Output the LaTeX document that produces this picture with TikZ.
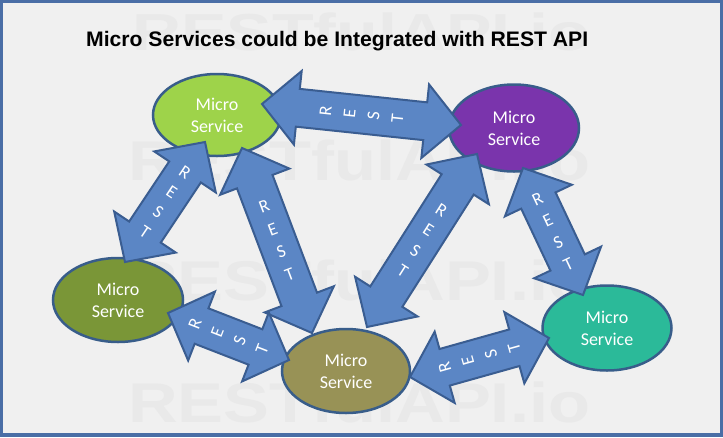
\documentclass[tikz,border=0pt]{standalone}
\usepackage{fontspec}
\usetikzlibrary{calc,shapes.geometric}
\newfontfamily\carlito{Carlito}
\newfontfamily\libsans{Liberation Sans}
\definecolor{framecol}{RGB}{74,110,166}
\definecolor{bgcol}{RGB}{240,240,240}
\definecolor{wmcol}{RGB}{233,233,233}
\definecolor{ellborder}{RGB}{56,93,138}
\definecolor{arrowfill}{RGB}{91,134,197}
\definecolor{arrowborder}{RGB}{58,93,145}
\definecolor{colA}{RGB}{158,211,74}
\definecolor{colB}{RGB}{122,52,172}
\definecolor{colC}{RGB}{122,150,55}
\definecolor{colD}{RGB}{152,146,86}
\definecolor{colE}{RGB}{43,186,153}
\tikzset{
  svc/.style={ellipse, draw=ellborder, line width=2.5pt, inner sep=0pt, text=white, align=center,
    font=\carlito\fontsize{18}{22}\selectfont},
  restshape/.style={fill=arrowfill, draw=arrowborder, line width=2pt, line join=miter},
  restletter/.style={text=white, font=\carlito\fontsize{18}{18}\selectfont, inner sep=0pt},
  wmark/.style={anchor=base west, inner sep=0pt, text=wmcol},
}
\newcommand\restarrow[3]{%
  \draw[restshape] (#1)
    -- ($(#1)!36pt!(#2)!37pt!90:(#2)$)
    -- ($(#1)!36pt!(#2)!19pt!90:(#2)$)
    -- ($(#2)!36pt!(#1)!19pt!-90:(#1)$)
    -- ($(#2)!36pt!(#1)!37pt!-90:(#1)$)
    -- (#2)
    -- ($(#2)!36pt!(#1)!37pt!90:(#1)$)
    -- ($(#2)!36pt!(#1)!19pt!90:(#1)$)
    -- ($(#1)!36pt!(#2)!19pt!-90:(#2)$)
    -- ($(#1)!36pt!(#2)!37pt!-90:(#2)$)
    -- cycle;
  \path let \p1=(#1), \p2=(#2), \n1={atan2(\y1-\y2,\x1-\x2)-90} in
    node[restletter, rotate=\n1] (#3r) at ($(#1)!0.5!(#2)!36pt!(#1)$) {R}
    node[restletter, rotate=\n1] (#3e) at ($(#1)!0.5!(#2)!12pt!(#1)$) {E}
    node[restletter, rotate=\n1] (#3s) at ($(#1)!0.5!(#2)!12pt!(#2)$) {S}
    node[restletter, rotate=\n1] (#3t) at ($(#1)!0.5!(#2)!36pt!(#2)$) {T};
}
\begin{document}
\begin{tikzpicture}[x=1pt,y=-1pt]
\useasboundingbox (0,0) rectangle (723,437);
\fill[framecol] (0,0) rectangle (723,437);
\fill[bgcol] (3,3) rectangle (720,433);
% watermark
\node[wmark] (wm1) at (132,50) {\resizebox{458pt}{\height}{\libsans\bfseries\fontsize{52}{52}\selectfont RESTfulAPI.io}};
\node[wmark] (wm2) at (128,180) {\resizebox{462pt}{\height}{\libsans\bfseries\fontsize{56}{56}\selectfont RESTfulAPI.io}};
\node[wmark] (wm3) at (128,300) {\resizebox{462pt}{\height}{\libsans\bfseries\fontsize{56}{56}\selectfont RESTfulAPI.io}};
\node[wmark] (wm4) at (128,422) {\resizebox{462pt}{\height}{\libsans\bfseries\fontsize{56}{56}\selectfont RESTfulAPI.io}};
% title
\node[anchor=base west, inner sep=0pt] (title) at (86,46.5)
  {\resizebox{502pt}{\height}{\libsans\bfseries\fontsize{21}{21}\selectfont Micro Services could be Integrated with REST API}};
% services
\node[svc, fill=colA, minimum width=128pt, minimum height=82pt] (A) at (217,115) {Micro\\Service};
\node[svc, fill=colB, minimum width=130pt, minimum height=87pt] (B) at (514,128) {Micro\\Service};
\node[svc, fill=colC, minimum width=130pt, minimum height=84pt] (C) at (118,300) {Micro\\Service};
\node[svc, fill=colD, minimum width=128pt, minimum height=84pt] (D) at (346,371) {Micro\\Service};
\node[svc, fill=colE, minimum width=129pt, minimum height=85pt] (E) at (607,328) {Micro\\Service};
% arrow end points
\coordinate (abA) at (262,104); \coordinate (abB) at (461,125);
\coordinate (acA) at (205,142); \coordinate (acC) at (125,262);
\coordinate (adA) at (242,148); \coordinate (adD) at (312,333);
\coordinate (bdB) at (477,154); \coordinate (bdD) at (367,327);
\coordinate (beB) at (523,168); \coordinate (beE) at (583,295);
\coordinate (cdC) at (168,313); \coordinate (cdD) at (289,360);
\coordinate (deD) at (410,377); \coordinate (deE) at (549,338);
\restarrow{abA}{abB}{ab}
\restarrow{acA}{acC}{ac}
\restarrow{adA}{adD}{ad}
\restarrow{bdB}{bdD}{bd}
\restarrow{beB}{beE}{be}
\restarrow{cdC}{cdD}{cd}
\restarrow{deD}{deE}{de}
\end{tikzpicture}
\end{document}
